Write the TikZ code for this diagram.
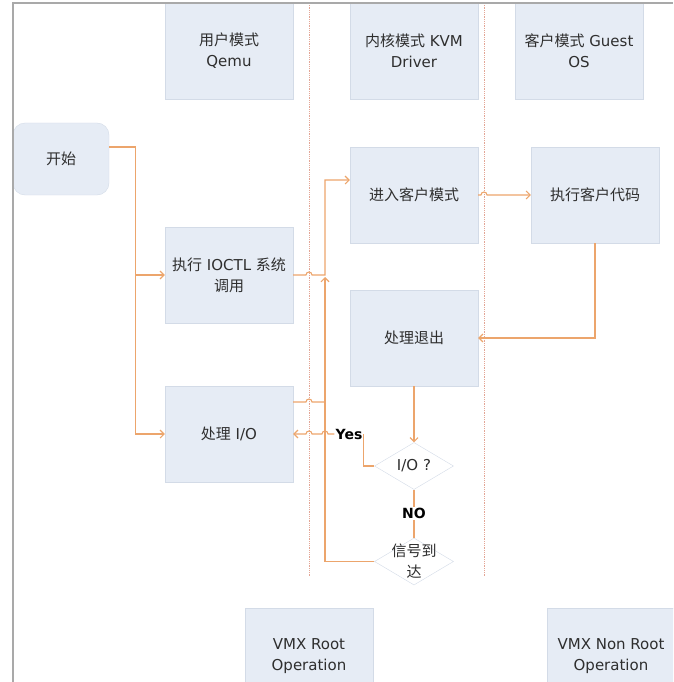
\documentclass[tikz,border=0pt]{standalone}
\usepackage{fontspec}
\setmainfont{DejaVu Sans}
\newfontfamily\cjk{Noto Sans CJK SC}
\usetikzlibrary{arrows.meta,positioning,shapes.geometric}
\definecolor{kv-ink}{HTML}{2E2E2E}
\definecolor{kv-fill}{HTML}{E6ECF5}
\definecolor{kv-edge}{HTML}{D3DBE7}
\definecolor{kv-flow}{HTML}{ECA56C}
\definecolor{kv-sep}{HTML}{E3A595}
\definecolor{kv-frame}{HTML}{A9A9A9}

\begin{document}
\begin{tikzpicture}[x=1pt,y=1pt,font=\fontsize{15}{21}\selectfont,
  box/.style={draw=kv-edge,fill=kv-fill,text=kv-ink,minimum width=128pt,
    minimum height=96pt,inner sep=0pt,align=center},
  startbox/.style={box,minimum width=96pt,minimum height=72pt,rounded corners=12pt},
  decision/.style={diamond,draw=kv-edge,fill=white,text=kv-ink,minimum width=79pt,
    minimum height=47pt,inner sep=0pt,align=center,aspect=1.68},
  flow/.style={draw=kv-flow,line width=1.1pt,-{Straight Barb[length=4pt,width=8pt]}},
  link/.style={draw=kv-flow,line width=1.1pt},
  sep/.style={draw=kv-sep,line width=0.8pt,densely dotted},
  frame/.style={draw=kv-frame,line width=2pt},
  lbl/.style={fill=white,inner sep=1pt,font=\fontsize{14}{16}\selectfont\bfseries,text=black}]

\clip (0,0) rectangle (673,-682);

% ============ lanes ============
\draw[sep] (309,-3) -- (309,-576);
\draw[sep] (484,-3) -- (484,-576);

% ============ lane headers ============
\node[box] (qemu)  at (229,-51) {{\cjk 用户模式}\\Qemu};
\node[box] (kvm)   at (414,-51) {{\cjk 内核模式} KVM\\Driver};
\node[box] (guest) at (579,-51) {{\cjk 客户模式} Guest\\OS};

% ============ steps ============
\node[startbox] (start) at (61,-159) {\cjk 开始};
\node[box] (ioctl)    at (229,-275) {{\cjk 执行} IOCTL {\cjk 系统}\\{\cjk 调用}};
\node[box] (handleio) at (229,-434) {{\cjk 处理} I/O};
\node[box] (enter)    at (414,-195) {\cjk 进入客户模式};
\node[box] (run)      at (595,-195) {\cjk 执行客户代码};
\node[box] (exit)     at (414,-338) {\cjk 处理退出};
\node[decision] (isio)   at (414,-466) {I/O ?};
\node[decision,label={[text=kv-ink,align=center]center:{\cjk 信号到}\\{\cjk 达}}]
  (signal) at (414,-561.5) {};

% ============ bottom row ============
\node[box] (vmxroot)    at (309,-656) {VMX Root\\Operation};
\node[box] (vmxnonroot) at (611,-656) {VMX Non Root\\Operation};

% ============ connectors ============
\draw[flow] ([yshift=12pt]start.east) -- ++(26,0) |- (ioctl.west);
\draw[flow] ([yshift=12pt]start.east) -- ++(26,0) |- (handleio.west);

\coordinate (bus) at (325,-180);
\draw[flow] (ioctl.east) -- (306,-275) arc[start angle=180,end angle=0,radius=3pt]
  -- (bus |- ioctl.east) -- (bus) -- ([yshift=15pt]enter.west);
\draw[link] ([yshift=32pt]handleio.east) -- (306,-402)
  arc[start angle=180,end angle=0,radius=3pt] -- (bus |- 0,-402);
\draw[flow] (signal.west) -- (bus |- signal.west) -- ([yshift=-2pt]bus |- ioctl.east);

\draw[flow] (enter.east) -- (481,-195) arc[start angle=180,end angle=0,radius=3pt]
  -- (run.west);
\draw[flow] (run.south) |- (exit.east);
\draw[flow] (exit.south) -- (isio.north);

% yes / no branches
\node[lbl] (yes) at (349,-434) {Yes};
\draw[link] (isio.west) -| (yes.east);
\draw[flow] (yes.west) -- (328,-434) arc[start angle=0,end angle=180,radius=3pt]
  -- (312,-434) arc[start angle=0,end angle=180,radius=3pt] -- (handleio.east);
\node[lbl] (no) at (414,-513) {NO};
\draw[link] (isio.south) -- (no.north);
\draw[link] (no.south) -- (signal.north);

% ============ frame ============
\draw[frame] (13,-682) -- (13,-3) -- (673,-3);

\end{tikzpicture}
\end{document}
